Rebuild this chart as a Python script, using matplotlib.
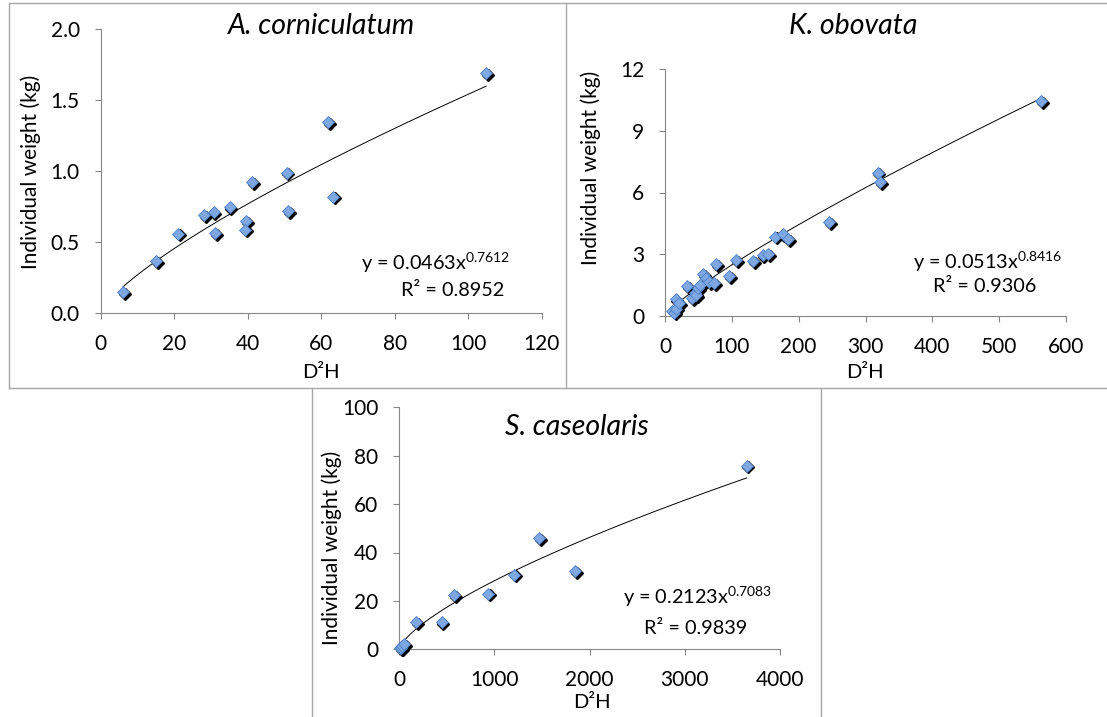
import numpy as np
import matplotlib
matplotlib.use("Agg")
import matplotlib.pyplot as plt
from matplotlib.transforms import offset_copy
from matplotlib.lines import Line2D

plt.rcParams["font.family"] = ["Lato", "DejaVu Sans"]

W, H = 1107, 717

# A. corniculatum
ac_x = [6.0, 15.1, 21.1, 28.1, 30.7, 31.1, 35.1, 39.6, 39.4, 41.3, 50.6, 51.1, 61.8, 63.2, 104.9]
ac_y = [0.148, 0.363, 0.558, 0.687, 0.71, 0.563, 0.746, 0.645, 0.586, 0.919, 0.989, 0.715, 1.343, 0.82, 1.693]
ac_coef = [0.0463, 0.7612]
ac_r2 = "0.8952"

# K. obovata
ko_x = [11, 14, 16, 17, 21, 33, 41, 45, 47, 49, 52, 57, 62, 66, 74, 77, 96, 106,
        132, 146, 154, 165, 176, 184, 245, 318, 322, 563]
ko_y = [0.25, 0.15, 0.82, 0.35, 0.6, 1.45, 0.86, 1.1, 1.0, 1.35, 1.5, 2.03, 1.85, 1.62,
        1.57, 2.5, 1.93, 2.71, 2.66, 2.95, 3.0, 3.85, 3.98, 3.72, 4.57, 6.97, 6.5, 10.45]
ko_coef = [0.0513, 0.8416]
ko_r2 = "0.9306"

# S. caseolaris
sc_x = [10, 20, 25, 35, 50, 178, 448, 581, 938, 1208, 1473, 1851, 3650]
sc_y = [0.4, 0.9, 0.6, 1.5, 2.3, 11.4, 11.4, 22.5, 23.0, 30.9, 46.1, 32.4, 75.9]
sc_coef = [0.2123, 0.7083]
sc_r2 = "0.9839"

GRAY = "#868686"
BLUE = "#7EA8E4"


def px(x, y):
    return x / W, 1 - y / H


def make_axes(fig, left, right, top, bottom):
    return fig.add_axes([left / W, 1 - bottom / H, (right - left) / W, (bottom - top) / H])


def draw_panel(ax, x, y, coef, xlim, ylim, xticks, yticks, yfmt):
    # black shadow first, blue diamond on top
    shadow = offset_copy(ax.transData, fig=ax.figure, x=1.8, y=-1.8, units="dots")
    ax.plot(x, y, "D", ms=6.6, color="black", transform=shadow, clip_on=False, zorder=3)
    ax.plot(x, y, "D", ms=6.6, mfc=BLUE, mec="#4F7FC4", mew=0.6, clip_on=False, zorder=4)

    # power trendline from the printed coefficients
    xs = np.linspace(min(x), max(x), 200)
    ax.plot(xs, coef[0] * xs ** coef[1], color="black", lw=0.7, zorder=2, clip_on=False)

    ax.set_xlim(*xlim)
    ax.set_ylim(*ylim)
    ax.set_xticks(xticks)
    ax.set_yticks(yticks)
    ax.set_yticklabels([yfmt.format(v) for v in yticks])
    for s in ["top", "right"]:
        ax.spines[s].set_visible(False)
    for s in ["left", "bottom"]:
        ax.spines[s].set_color(GRAY)
        ax.spines[s].set_linewidth(0.8)
    ax.tick_params(direction="out", length=4, width=0.8, color=GRAY,
                   labelsize=15, pad=11, labelcolor="black")
    ax.patch.set_alpha(0)


fig = plt.figure(figsize=(W / 100, H / 100), dpi=100)

# panel borders
border = dict(color="#A6A6A6", lw=1.0)
for xs_, ys_ in [
    ([9, 9, 1107], [388, 2.5, 2.5]),
    ([9, 1107], [388, 388]),
    ([566, 566], [2.5, 388]),
    ([312, 312], [388, 717]),
    ([820.5, 820.5], [388, 717]),
]:
    fx = [v / W for v in xs_]
    fy = [1 - v / H for v in ys_]
    fig.add_artist(Line2D(fx, fy, transform=fig.transFigure, **border))

ax1 = make_axes(fig, 100.7, 541.7, 29.3, 312.7)
draw_panel(ax1, ac_x, ac_y, ac_coef, (0, 120), (0, 2.0),
           [0, 20, 40, 60, 80, 100, 120], [0, 0.5, 1.0, 1.5, 2.0], "{:.1f}")

ax2 = make_axes(fig, 665, 1066, 69.3, 315.7)
draw_panel(ax2, ko_x, ko_y, ko_coef, (0, 600), (0, 12),
           [0, 100, 200, 300, 400, 500, 600], [0, 3, 6, 9, 12], "{:.0f}")

ax3 = make_axes(fig, 399, 780, 407.3, 649.3)
draw_panel(ax3, sc_x, sc_y, sc_coef, (0, 4000), (0, 100),
           [0, 1000, 2000, 3000, 4000], [0, 20, 40, 60, 80, 100], "{:.0f}")

# titles
fig.text(*px(321, 26), "A. corniculatum", fontsize=20.5, style="italic", ha="center", va="center")
fig.text(*px(853, 26), "K. obovata", fontsize=20.5, style="italic", ha="center", va="center")
fig.text(*px(577, 427), "S. caseolaris", fontsize=20.5, style="italic", ha="center", va="center")

# axis labels
for xx, yy in [(31, 172), (591, 168), (332, 548)]:
    fig.text(*px(xx, yy), "Individual weight (kg)", fontsize=15, rotation=90,
             ha="center", va="center")
for xx, yy in [(321, 373), (865, 373), (592, 703)]:
    fig.text(*px(xx, yy), "D²H", fontsize=14.5, ha="center", va="center")

# equations
eqs = [
    (ac_coef, ac_r2, (510, 263), (453, 290)),
    (ko_coef, ko_r2, (1062, 262), (985, 287)),
    (sc_coef, sc_r2, (772, 597), (696, 628)),
]
for coef, r2, p_eq, p_r2 in eqs:
    fig.text(*px(*p_eq), "y = %.4fx$^{\\mathregular{%.4f}}$" % (coef[0], coef[1]),
             fontsize=14.3, ha="right", va="center")
    fig.text(*px(*p_r2), "R² = " + r2, fontsize=14.3, ha="center", va="center")

fig.savefig("out.png", dpi=100)
